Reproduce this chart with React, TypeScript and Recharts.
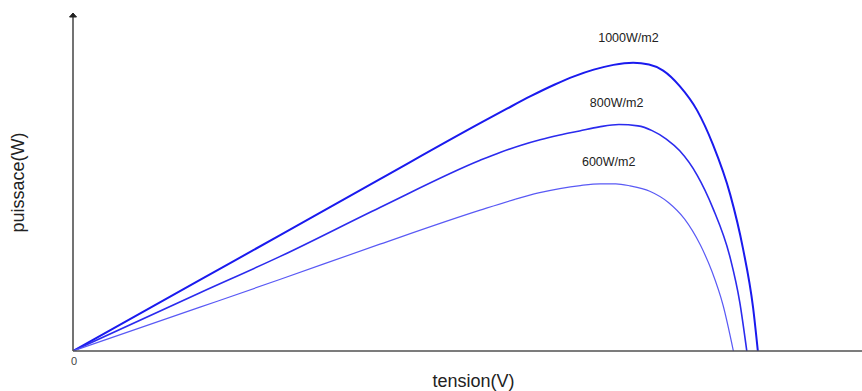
import React from "react";
import {
  LineChart,
  Line,
  XAxis,
  YAxis,
  ReferenceDot,
} from "recharts";

// tension / puissance points (arbitrary units 0..100)
const curve1000 = [
  { v: 0, p: 0 },
  { v: 16.1, p: 21.1 },
  { v: 26.2, p: 34.3 },
  { v: 38.9, p: 51 },
  { v: 51.6, p: 67.6 },
  { v: 55, p: 71.9 },
  { v: 58, p: 75.6 },
  { v: 61, p: 79 },
  { v: 63.5, p: 81.5 },
  { v: 66, p: 83.5 },
  { v: 68.5, p: 84.9 },
  { v: 71, p: 85.5 },
  { v: 73, p: 85 },
  { v: 74.8, p: 83.2 },
  { v: 76.9, p: 78.6 },
  { v: 79.1, p: 71.4 },
  { v: 81.1, p: 61.3 },
  { v: 83.3, p: 46.4 },
  { v: 84.9, p: 30.6 },
  { v: 86.2, p: 12.8 },
  { v: 86.8, p: 0 },
];

const curve800 = [
  { v: 0, p: 0 },
  { v: 16.1, p: 17.3 },
  { v: 26.2, p: 28 },
  { v: 38.9, p: 42.6 },
  { v: 51.6, p: 56.6 },
  { v: 54.2, p: 59 },
  { v: 56.7, p: 61 },
  { v: 59.2, p: 62.7 },
  { v: 61.7, p: 64.1 },
  { v: 64.2, p: 65.3 },
  { v: 66.7, p: 66.5 },
  { v: 69.2, p: 67.2 },
  { v: 71.6, p: 66.8 },
  { v: 73.4, p: 65.4 },
  { v: 75.2, p: 62.9 },
  { v: 76.9, p: 59.4 },
  { v: 79.1, p: 52.2 },
  { v: 81.1, p: 42.4 },
  { v: 83.3, p: 27.6 },
  { v: 84.5, p: 14.6 },
  { v: 85.4, p: 0 },
];

const curve600 = [
  { v: 0, p: 0 },
  { v: 16.1, p: 13 },
  { v: 26.2, p: 21.2 },
  { v: 38.9, p: 31.7 },
  { v: 51.6, p: 41.8 },
  { v: 56, p: 45 },
  { v: 59, p: 46.9 },
  { v: 61.7, p: 48.2 },
  { v: 64.3, p: 49.1 },
  { v: 66.8, p: 49.6 },
  { v: 68.8, p: 49.6 },
  { v: 70.6, p: 49 },
  { v: 73.1, p: 47.4 },
  { v: 75.5, p: 44 },
  { v: 77.5, p: 39.2 },
  { v: 79.5, p: 31.5 },
  { v: 81, p: 23.5 },
  { v: 82.4, p: 13.5 },
  { v: 83.7, p: 0 },
];

const curveLabels = ["1000W/m2", "800W/m2", "600W/m2"];
const labelAt = [
  { v: 70.4, p: 92.9 },
  { v: 68.9, p: 73.7 },
  { v: 67.9, p: 56.1 },
];

const AXIS = "#505050";
const FONT = "Liberation Sans, Arial, sans-serif";

const Arrow = (props: any) => {
  const { cx, cy } = props;
  return (
    <path
      d={`M${cx - 3.5},${cy + 3} L${cx},${cy - 1} L${cx + 3.5},${cy + 3} Z`}
      fill="#222"
      stroke="#222"
      strokeWidth={1}
    />
  );
};

const XLabel = (props: any) => {
  const { x, y, width } = props.viewBox;
  return (
    <text x={x + width / 2 + 6} y={y + 36} textAnchor="middle" fontSize={18} fill="#222">
      tension(V)
    </text>
  );
};

const YLabel = (props: any) => {
  const { x, y, height } = props.viewBox;
  const cx = x - 54;
  const cy = y + height / 2;
  return (
    <text
      x={cx}
      y={cy}
      transform={`rotate(-90 ${cx} ${cy})`}
      textAnchor="middle"
      dominantBaseline="central"
      fontSize={18}
      fill="#222"
    >
      puissace(W)
    </text>
  );
};

export default function App() {
  return (
    <div style={{ position: "absolute", left: 0, top: 0, background: "#fff" }}>
      <LineChart
        width={862}
        height={391}
        margin={{ top: 14, right: 0, bottom: 0, left: 72 }}
        style={{ fontFamily: FONT }}
      >
        <XAxis
          type="number"
          dataKey="v"
          domain={[0, 100]}
          ticks={[0]}
          tickLine={false}
          tickSize={4}
          tickMargin={2}
          height={40}
          allowDataOverflow
          axisLine={{ stroke: AXIS, strokeWidth: 1.6 }}
          tick={{ fontSize: 11, fill: "#444", dx: 1 }}
          label={<XLabel />}
        />
        <YAxis
          type="number"
          dataKey="p"
          domain={[0, 100]}
          width={1}
          tick={false}
          tickLine={false}
          allowDataOverflow
          axisLine={{ stroke: AXIS, strokeWidth: 1.6 }}
          label={<YLabel />}
        />
        <Line
          data={curve1000}
          dataKey="p"
          type="monotone"
          stroke="#1a1aee"
          strokeWidth={2}
          dot={false}
          isAnimationActive={false}
        />
        <Line
          data={curve800}
          dataKey="p"
          type="monotone"
          stroke="#2b2bee"
          strokeWidth={1.6}
          dot={false}
          isAnimationActive={false}
        />
        <Line
          data={curve600}
          dataKey="p"
          type="monotone"
          stroke="#5a5af5"
          strokeWidth={1.2}
          dot={false}
          isAnimationActive={false}
        />
        {curveLabels.map((t, i) => (
          <ReferenceDot
            key={t}
            x={labelAt[i].v}
            y={labelAt[i].p}
            r={0}
            stroke="none"
            fill="none"
            ifOverflow="visible"
            label={{ value: t, position: "center", fontSize: 12.5, fill: "#222" }}
          />
        ))}
        <ReferenceDot x={0} y={100} ifOverflow="visible" shape={Arrow} />
      </LineChart>
    </div>
  );
}
